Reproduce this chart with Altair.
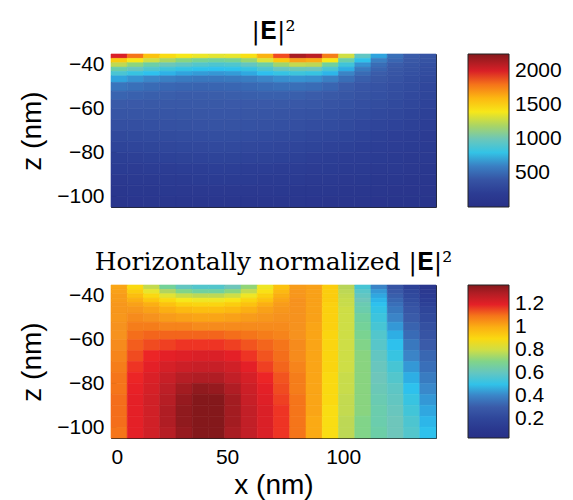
import altair as alt
import pandas as pd

# grid cell edges (nm)
x_edges = [0, 7, 14, 21, 28, 35, 42, 49, 56, 63, 70, 77, 84, 91, 98, 105, 112, 119, 126, 133, 140]
z_edges = [-35, -37, -39, -41, -43, -45, -48, -52, -56, -60, -65, -70, -75, -80, -85, -90, -95, -100, -105]

# |E|^2, one row per z band (top to bottom), one value per x cell (left to right)
E2_rows = [
    [2000, 1800, 1560, 1450, 1400, 1370, 1350, 1360, 1430, 1620, 1880, 2150, 2100, 1780, 1300, 950, 700, 540, 460, 410],
    [1520, 1400, 1290, 1200, 1140, 1100, 1080, 1100, 1170, 1330, 1540, 1680, 1640, 1400, 1050, 780, 600, 500, 430, 390],
    [1250, 1150, 1060, 1000, 950, 910, 890, 900, 960, 1060, 1180, 1260, 1240, 1080, 850, 660, 530, 460, 410, 370],
    [1050, 970, 900, 850, 810, 780, 770, 780, 820, 890, 970, 1010, 990, 880, 720, 580, 490, 430, 390, 350],
    [880, 820, 770, 730, 700, 680, 670, 680, 710, 760, 810, 840, 820, 740, 620, 520, 460, 410, 370, 335],
    [700, 660, 630, 600, 580, 570, 570, 575, 595, 625, 650, 660, 650, 600, 530, 470, 430, 390, 355, 320],
    [560, 540, 520, 505, 495, 490, 495, 500, 510, 525, 535, 535, 525, 495, 460, 420, 395, 365, 335, 300],
    [490, 480, 470, 465, 460, 460, 462, 465, 470, 475, 475, 470, 460, 440, 415, 390, 370, 345, 315, 285],
    [450, 445, 442, 440, 440, 440, 442, 444, 445, 445, 440, 432, 422, 405, 385, 365, 345, 320, 295, 265],
    [410, 410, 410, 412, 415, 418, 420, 420, 418, 412, 405, 395, 385, 370, 352, 335, 315, 295, 272, 245],
    [360, 365, 370, 375, 382, 388, 390, 390, 386, 380, 370, 360, 348, 335, 318, 300, 283, 265, 245, 222],
    [310, 318, 326, 334, 342, 348, 352, 352, 348, 340, 332, 320, 308, 295, 280, 265, 250, 235, 218, 200],
    [270, 278, 286, 294, 302, 308, 312, 312, 308, 300, 292, 282, 270, 258, 245, 232, 220, 207, 193, 178],
    [230, 238, 246, 254, 262, 268, 272, 272, 268, 262, 254, 245, 235, 224, 213, 202, 192, 180, 168, 156],
    [190, 198, 206, 214, 222, 228, 232, 232, 228, 222, 215, 207, 198, 189, 180, 171, 163, 153, 143, 133],
    [150, 158, 166, 174, 182, 188, 192, 192, 188, 182, 176, 169, 162, 155, 148, 141, 134, 126, 118, 110],
    [120, 126, 132, 138, 144, 148, 150, 150, 148, 144, 139, 134, 129, 124, 118, 113, 108, 102, 96, 90],
    [100, 104, 108, 112, 116, 119, 120, 120, 119, 116, 112, 108, 104, 100, 96, 92, 88, 84, 80, 76],
]

# horizontally normalized |E|^2, same layout
N_rows = [
    [1.02, 0.90, 0.78, 0.68, 0.60, 0.57, 0.57, 0.62, 0.72, 0.85, 0.96, 1.04, 1.03, 0.93, 0.76, 0.55, 0.40, 0.27, 0.18, 0.10],
    [1.03, 0.93, 0.84, 0.75, 0.70, 0.67, 0.67, 0.71, 0.78, 0.88, 0.98, 1.05, 1.03, 0.93, 0.77, 0.58, 0.43, 0.29, 0.20, 0.12],
    [1.04, 0.97, 0.90, 0.83, 0.79, 0.77, 0.77, 0.80, 0.85, 0.92, 1.00, 1.05, 1.03, 0.93, 0.78, 0.60, 0.45, 0.31, 0.22, 0.14],
    [1.04, 1.00, 0.95, 0.90, 0.86, 0.85, 0.85, 0.87, 0.91, 0.96, 1.02, 1.06, 1.03, 0.93, 0.79, 0.62, 0.47, 0.33, 0.24, 0.16],
    [1.05, 1.03, 1.00, 0.96, 0.92, 0.91, 0.91, 0.93, 0.96, 1.00, 1.04, 1.06, 1.03, 0.92, 0.79, 0.64, 0.49, 0.35, 0.26, 0.18],
    [1.05, 1.05, 1.03, 1.00, 0.98, 0.97, 0.97, 0.98, 1.00, 1.03, 1.05, 1.06, 1.03, 0.92, 0.80, 0.65, 0.51, 0.37, 0.28, 0.20],
    [1.05, 1.07, 1.06, 1.04, 1.03, 1.02, 1.02, 1.03, 1.04, 1.05, 1.06, 1.06, 1.03, 0.92, 0.80, 0.67, 0.53, 0.40, 0.30, 0.22],
    [1.06, 1.09, 1.09, 1.08, 1.08, 1.07, 1.07, 1.07, 1.07, 1.07, 1.07, 1.06, 1.02, 0.92, 0.80, 0.68, 0.55, 0.43, 0.32, 0.25],
    [1.06, 1.11, 1.12, 1.12, 1.12, 1.12, 1.12, 1.11, 1.10, 1.09, 1.08, 1.06, 1.02, 0.91, 0.80, 0.69, 0.57, 0.46, 0.34, 0.27],
    [1.07, 1.13, 1.15, 1.16, 1.17, 1.17, 1.17, 1.16, 1.14, 1.12, 1.10, 1.07, 1.02, 0.91, 0.80, 0.70, 0.58, 0.49, 0.37, 0.30],
    [1.08, 1.15, 1.18, 1.20, 1.21, 1.22, 1.22, 1.20, 1.17, 1.14, 1.11, 1.07, 1.02, 0.91, 0.80, 0.71, 0.60, 0.52, 0.40, 0.33],
    [1.09, 1.17, 1.20, 1.23, 1.25, 1.26, 1.26, 1.24, 1.20, 1.16, 1.12, 1.08, 1.02, 0.91, 0.80, 0.71, 0.61, 0.55, 0.43, 0.35],
    [1.10, 1.18, 1.22, 1.26, 1.29, 1.30, 1.30, 1.27, 1.23, 1.18, 1.14, 1.09, 1.02, 0.90, 0.79, 0.71, 0.62, 0.57, 0.46, 0.38],
    [1.10, 1.19, 1.23, 1.28, 1.32, 1.35, 1.34, 1.30, 1.25, 1.20, 1.15, 1.09, 1.02, 0.90, 0.79, 0.71, 0.63, 0.59, 0.49, 0.41],
    [1.11, 1.20, 1.24, 1.29, 1.34, 1.37, 1.37, 1.32, 1.26, 1.21, 1.16, 1.10, 1.02, 0.90, 0.78, 0.71, 0.64, 0.60, 0.52, 0.43],
    [1.11, 1.20, 1.24, 1.30, 1.35, 1.38, 1.38, 1.32, 1.27, 1.22, 1.17, 1.10, 1.02, 0.89, 0.78, 0.71, 0.65, 0.61, 0.54, 0.45],
    [1.11, 1.20, 1.24, 1.30, 1.35, 1.38, 1.38, 1.32, 1.27, 1.22, 1.17, 1.10, 1.01, 0.89, 0.77, 0.70, 0.65, 0.62, 0.56, 0.47],
    [1.10, 1.20, 1.24, 1.29, 1.34, 1.37, 1.37, 1.31, 1.27, 1.22, 1.17, 1.10, 1.01, 0.89, 0.77, 0.70, 0.66, 0.62, 0.57, 0.49],
]

# colour bar ranges and labels
E2_range = [0, 2250]
N_range = [0.03, 1.37]
E2_ticks = [500, 1000, 1500, 2000]
N_ticks = [0.2, 0.4, 0.6, 0.8, 1, 1.2]
x_ticks = [0, 50, 100]
z_ticks = [-100, -80, -60, -40]

# jet-like colormap (as printed)
cmap_pos = [0, 0.10, 0.20, 0.28, 0.34, 0.44, 0.54, 0.62, 0.70, 0.77, 0.86, 0.93, 1.0]
cmap_col = ["#283087", "#2c3e95", "#3a5aa8", "#3b86c8", "#2ec1ef", "#6ec6bb", "#b5d45c",
            "#f7e81a", "#fcbf10", "#f6911e", "#ec2127", "#bf1f27", "#84181b"]


def table(rows):
    recs = []
    for i, row in enumerate(rows):
        for j, v in enumerate(row):
            recs.append({"x0": x_edges[j], "x1": x_edges[j + 1],
                         "z0": z_edges[i + 1], "z1": z_edges[i], "v": v})
    return pd.DataFrame(recs)


def cscale(rng, eps=0.0):
    lo, hi = rng
    return alt.Scale(domain=[lo + p * (hi - lo) + eps * p for p in cmap_pos], range=cmap_col, clamp=True)


xs = alt.Scale(domain=[0, 140], nice=False, zero=False)
zs = alt.Scale(domain=[-105, -35], nice=False, zero=False)

yaxis = alt.Axis(values=z_ticks, title="z (nm)", titleFontSize=28, labelFontSize=21,
                 domain=False, tickSize=5, offset=-5, labelPadding=7, titlePadding=10, grid=False)


def panel(rows, rng, ticks, fmt, title, bottom):
    if bottom:
        xaxis = alt.Axis(values=x_ticks, title="x (nm)", titleFontSize=28, labelFontSize=21,
                         domain=False, tickSize=5, offset=-5, labelPadding=8, titlePadding=4, grid=False)
    else:
        xaxis = alt.Axis(values=x_ticks, title=None, labels=False,
                         domain=False, tickSize=5, offset=-5, grid=False)
    legend = alt.Legend(type="gradient", title=None, orient="right", offset=32, direction="vertical",
                        gradientLength=153, gradientThickness=41, values=ticks, format=fmt,
                        labelFontSize=21, labelFont="Liberation Sans", labelColor="black",
                        labelOffset=6, labelOverlap=False,
                        gradientStrokeColor="#222", gradientStrokeWidth=1)
    return alt.Chart(table(rows)).mark_rect(strokeWidth=0.6).encode(
        x=alt.X("x0:Q", scale=xs, axis=xaxis),
        x2="x1:Q",
        y=alt.Y("z0:Q", scale=zs, axis=yaxis),
        y2="z1:Q",
        color=alt.Color("v:Q", scale=cscale(rng), legend=legend),
        # same colours on the cell outline, only to hide hairline seams
        stroke=alt.Stroke("v:Q", scale=cscale(rng, 1e-6), legend=None),
    ).properties(
        width=325, height=153,
        title=alt.TitleParams(text=title, font="DejaVu Serif", fontSize=25, fontWeight="normal",
                              color="black", offset=10, anchor="middle"),
    )


top = panel(E2_rows, E2_range, E2_ticks, "d", "|𝐄|²", False)
bot = panel(N_rows, N_range, N_ticks, ".2~g", "Horizontally normalized |𝐄|²", True)

chart = alt.vconcat(top, bot, spacing=40).resolve_scale(
    color="independent", stroke="independent"
).properties(
    padding={"left": 10, "top": 10, "right": 0, "bottom": 0}
).configure_view(
    stroke="#222", strokeWidth=1
).configure_axis(
    labelFont="Liberation Sans", titleFont="Liberation Sans", labelColor="black",
    titleColor="black", tickColor="#222", titleFontWeight="normal"
)

chart.save("out.html", embed_options={"renderer": "svg", "actions": False})
